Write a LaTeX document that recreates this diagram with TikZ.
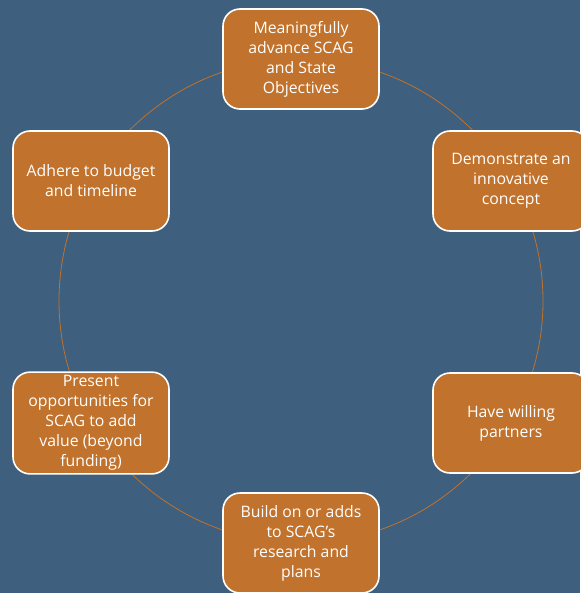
\documentclass[tikz,border=0pt]{standalone}
\usepackage{fontspec}
\setmainfont{Open Sans}
\definecolor{slateblue}{HTML}{3E5F7D}
\definecolor{rustorange}{HTML}{C1722C}
\tikzset{goalbox/.style={shape=rectangle, rounded corners=17pt, draw=white, line width=1.6pt, fill=rustorange, minimum width=156pt, minimum height=100pt, align=center, text=white, font=\fontsize{15.8}{20}\selectfont}}
\begin{document}
\begin{tikzpicture}[x=1pt,y=-1pt]
	% Background
	\fill[slateblue] (0,0) rectangle (580,593);
	\useasboundingbox (0,0) rectangle (580,593);
	% Ring behind the boxes
	\coordinate (C) at (301,301);
	\draw[rustorange, line width=0.8pt] (C) circle (242pt);
	% Goal boxes, clockwise from the top
	\node[goalbox] (G0) at (301,59) {Meaningfully\\advance SCAG\\and State\\Objectives};
	\node[goalbox] (G1) at (511,181) {Demonstrate an\\innovative\\concept};
	\node[goalbox] (G2) at (511,423) {Have willing\\partners};
	\node[goalbox] (G3) at (301,543) {Build on or adds\\to SCAG’s\\research and\\plans};
	\node[goalbox] (G4) at (91,423) {Present\\opportunities for\\SCAG to add\\value (beyond\\funding)};
	\node[goalbox] (G5) at (91,181) {Adhere to budget\\and timeline};
\end{tikzpicture}
\end{document}
